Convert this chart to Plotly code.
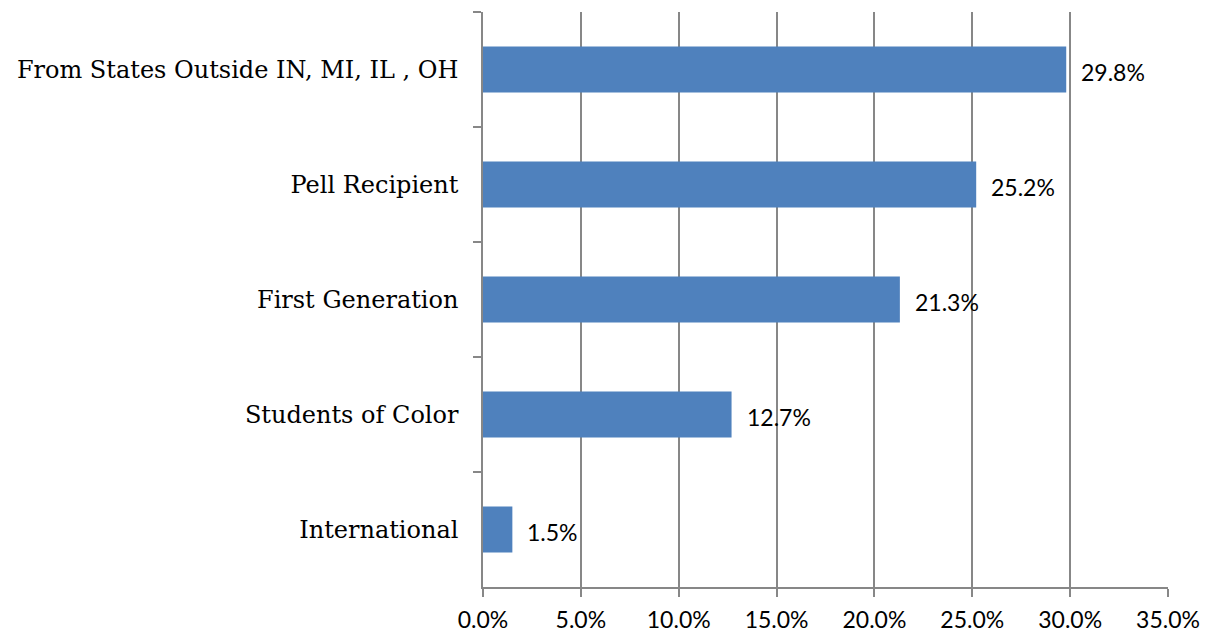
import plotly.graph_objects as go

categories = ["From States Outside IN, MI, IL , OH", "Pell Recipient", "First Generation",
              "Students of Color", "International"]
values = [29.8, 25.2, 21.3, 12.7, 1.5]
labels = ["29.8%", "25.2%", "21.3%", "12.7%", "1.5%"]
tick_vals = [0, 5, 10, 15, 20, 25, 30, 35]
tick_text = ["0.0%", "5.0%", "10.0%", "15.0%", "20.0%", "25.0%", "30.0%", "35.0%"]

GRAY = "#878787"
fig = go.Figure(go.Bar(
    x=values, y=categories, orientation="h",
    marker=dict(color="#4F81BD", line=dict(width=0)),
    width=0.4, hoverinfo="skip", cliponaxis=False,
))

for v, c, t in zip(values, categories, labels):
    fig.add_annotation(x=v, y=c, text=t, showarrow=False, xanchor="left",
                       xshift=13, yshift=-2,
                       font=dict(family="Lato", size=23, color="#000000"))

# page body has an 8px default margin, so the figure is sized/offset to compensate
fig.update_layout(
    width=1201, height=625,
    margin=dict(l=475, r=41, t=4, b=46, autoexpand=False),
    paper_bgcolor="white", plot_bgcolor="white",
    showlegend=False,
    xaxis=dict(range=[0, 35], tickvals=tick_vals, ticktext=tick_text,
               showgrid=True, gridcolor=GRAY, gridwidth=1.5,
               showline=True, linecolor=GRAY, linewidth=1.5,
               ticks="outside", ticklen=8, tickcolor=GRAY, tickwidth=1.5,
               ticklabelstandoff=4,
               tickfont=dict(family="Lato", size=23, color="#000000"),
               zeroline=False, fixedrange=True, automargin=False),
    yaxis=dict(categoryorder="array", categoryarray=categories, autorange="reversed",
               showline=True, linecolor=GRAY, linewidth=1.5,
               ticks="outside", ticklen=8, tickcolor=GRAY, tickwidth=1.5,
               tickson="boundaries", showgrid=False,
               ticklabelstandoff=18, automargin=False,
               tickfont=dict(family="DejaVu Serif", size=24, color="#000000"),
               fixedrange=True),
)

fig.write_html("out.html")
